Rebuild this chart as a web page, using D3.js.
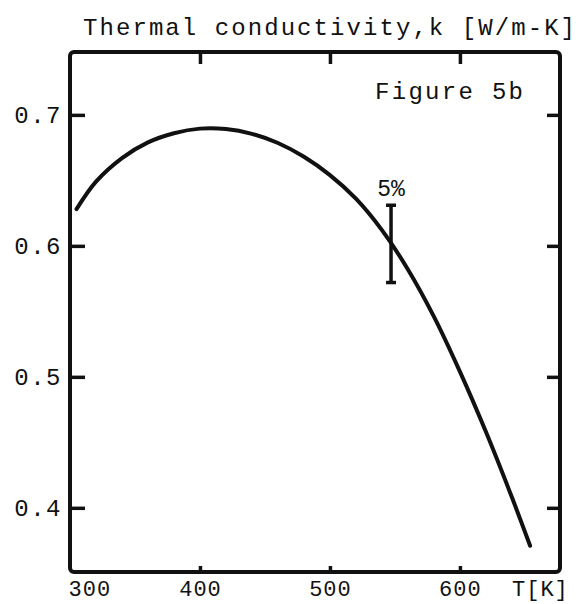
<!DOCTYPE html>
<html>
<head>
<meta charset="utf-8">
<script src="https://cdn.jsdelivr.net/npm/d3@7"></script>
<style>
  body { margin: 0; background: #fff; }
  text { font-family: "Liberation Mono", "DejaVu Sans Mono", monospace; fill: #111; }
</style>
</head>
<body>
<div id="chart"></div>
<script>
// curve: temperature [K] and conductivity k [W/m-K]
var temps = [305, 320, 340, 360, 380, 400, 420, 440, 460, 480, 500, 520, 540, 560, 580, 600, 620, 640, 654];
var kvals = [0.628, 0.649, 0.667, 0.679, 0.686, 0.6895, 0.6892, 0.6855, 0.6785, 0.668, 0.654, 0.636, 0.612, 0.582, 0.546, 0.504, 0.458, 0.408, 0.371];

// the 5% error bar
var errT = [547];
var errLo = [0.572];
var errHi = [0.631];
var errLabel = "5%";

var xTicks = [300, 400, 500, 600];
var xTickLabels = ["300", "400", "500", "600"];
var yTicks = [0.4, 0.5, 0.6, 0.7];
var yTickLabels = ["0.4", "0.5", "0.6", "0.7"];

var titleText = "Thermal conductivity,k [W/m-K]";
var figLabel = "Figure 5b";
var xUnit = "T[K]";

function drawChart(containerSelector) {
	var W = 580, H = 604;
	var margin = {top: 52, right: 20, bottom: 32, left: 70},
	    width = W - margin.left - margin.right,
	    height = H - margin.top - margin.bottom;

	var x = d3.scaleLinear().domain([300, 677]).range([0, width]);
	var y = d3.scaleLinear().domain([0.351, 0.748]).range([height, 0]);

	var svg = d3.select(containerSelector).append("svg")
	    .attr("width", W)
	    .attr("height", H);

	var g = svg.append("g")
	    .attr("transform", "translate(" + margin.left + "," + margin.top + ")");

	// title above the frame
	svg.append("text")
	    .attr("x", 83)
	    .attr("y", 35)
	    .attr("textLength", 492)
	    .attr("lengthAdjust", "spacing")
	    .style("font-size", "24px")
	    .text(titleText);

	// axes, ticks pointing inward
	var left = g.append("g")
	    .call(d3.axisLeft(y).tickValues(yTicks).tickSize(-15).tickPadding(8)
	        .tickFormat(function(d, i) { return yTickLabels[i]; }));
	var right = g.append("g")
	    .attr("transform", "translate(" + width + ",0)")
	    .call(d3.axisRight(y).tickValues(yTicks).tickSize(-13).tickFormat(""));
	var top = g.append("g")
	    .call(d3.axisTop(x).tickValues(xTicks.slice(1)).tickSize(-12).tickFormat(""));
	var bottom = g.append("g")
	    .attr("transform", "translate(0," + height + ")")
	    .call(d3.axisBottom(x).tickValues(xTicks).tickSize(-6)
	        .tickFormat(function(d, i) { return xTickLabels[i]; }));

	[left, right, top, bottom].forEach(function(a) {
		a.select(".domain").remove();
		a.selectAll(".tick line").attr("stroke", "#111").attr("stroke-width", 3.5);
		a.selectAll(".tick text").style("font-size", "24px").attr("fill", "#111");
	});
	left.selectAll(".tick text").attr("letter-spacing", "1.5px");
	bottom.selectAll(".tick text")
	    .style("font-size", "22px")
	    .attr("y", 24).attr("dy", 0).attr("letter-spacing", "1px");
	// first label sits to the right of the corner
	bottom.selectAll(".tick text").filter(function(d) { return d === 300; })
	    .attr("text-anchor", "start").attr("x", -2);
	bottom.selectAll(".tick line").filter(function(d) { return d === 300; }).remove();

	svg.append("text")
	    .attr("x", 512)
	    .attr("y", margin.top + height + 24)
	    .style("font-size", "22px")
	    .attr("letter-spacing", "1px")
	    .text(xUnit);

	// frame
	g.append("rect")
	    .attr("x", 0).attr("y", 0)
	    .attr("width", width).attr("height", height)
	    .attr("rx", 4)
	    .attr("fill", "none")
	    .attr("stroke", "#111")
	    .attr("stroke-width", 4);

	// the curve
	var pts = temps.map(function(t, i) { return [t, kvals[i]]; });
	var line = d3.line()
	    .x(function(d) { return x(d[0]); })
	    .y(function(d) { return y(d[1]); })
	    .curve(d3.curveCatmullRom);
	g.append("path")
	    .datum(pts)
	    .attr("d", line)
	    .attr("fill", "none")
	    .attr("stroke", "#111")
	    .attr("stroke-width", 4)
	    .attr("stroke-linecap", "round");

	// error bar
	errT.forEach(function(t, i) {
		var eb = g.append("g").attr("stroke", "#111").attr("stroke-width", 3.5);
		eb.append("line")
		    .attr("x1", x(t)).attr("x2", x(t))
		    .attr("y1", y(errLo[i])).attr("y2", y(errHi[i]));
		[errLo[i], errHi[i]].forEach(function(v) {
			eb.append("line")
			    .attr("x1", x(t) - 5).attr("x2", x(t) + 5)
			    .attr("y1", y(v)).attr("y2", y(v));
		});
		g.append("text")
		    .attr("x", x(t))
		    .attr("y", y(errHi[i]) - 9)
		    .attr("text-anchor", "middle")
		    .style("font-size", "23px")
		    .text(errLabel);
	});

	// figure label in the corner
	svg.append("text")
	    .attr("x", 375)
	    .attr("y", 99)
	    .attr("textLength", 148)
	    .attr("lengthAdjust", "spacing")
	    .style("font-size", "24px")
	    .text(figLabel);
}

drawChart("#chart");
</script>
</body>
</html>
